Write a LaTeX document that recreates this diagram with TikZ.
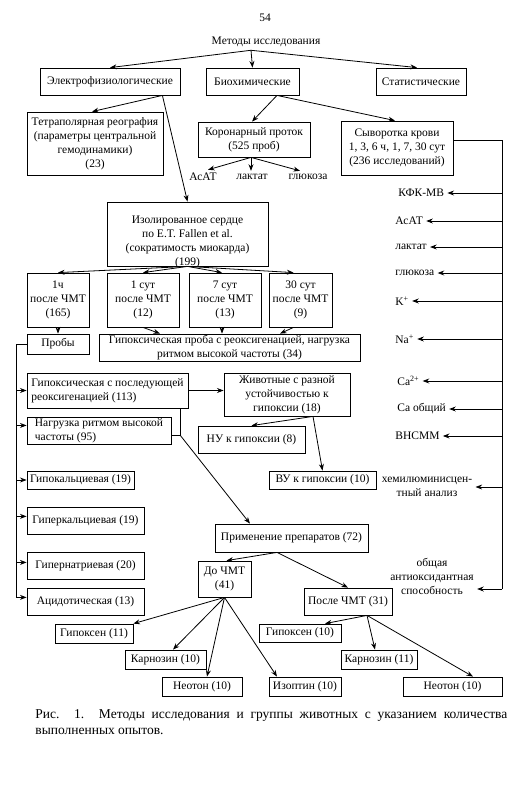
\documentclass[tikz,border=0pt]{standalone}
\usepackage{fontspec}
\setmainfont{Liberation Serif}
\usetikzlibrary{arrows.meta}

\begin{document}
\begin{tikzpicture}[x=1pt, y=-1pt, line width=0.8pt,
  every node/.style={font=\fontsize{11.5}{14}\selectfont}]
  \useasboundingbox (0,0) rectangle (522,798);

  \tikzset{box node/.style={rectangle,draw,align=center,inner xsep=2pt,inner ysep=1pt}}
  \tikzset{left node/.style={box node,align=left}}
  \tikzset{plain label/.style={inner sep=3pt}}
  \tikzset{side label/.style={inner sep=3pt,anchor=west}}

  % top part
  \path
    (265,18) node[plain label](page) {54}
    (266,42) node[plain label](title) {Методы исследования}
    (110,81.5) node[box node,minimum width=140pt,minimum height=27pt](elec) {Электрофизиологические}
    (252.5,81.5) node[box node,minimum width=93pt,minimum height=27pt](bio) {Биохимические}
    (421,81.5) node[box node,minimum width=90pt,minimum height=27pt](stat) {Статистические}
    (95,143.5) node[box node,minimum width=136pt,minimum height=63pt](tetra)
      {Тетраполярная реография\\(параметры центральной\\гемодинамики)\\(23)}
    (254,139.5) node[box node,minimum width=112pt,minimum height=35pt](coron) {Коронарный проток\\(525 проб)}
    (397,148) node[box node,minimum width=112pt,minimum height=54pt](serum)
      {Сыворотка крови\\1, 3, 6 ч, 1, 7, 30 сут\\(236 исследований)}
    (203,177) node[plain label](asat1) {АсАТ}
    (252,177) node[plain label](lact1) {лактат}
    (308,177) node[plain label](gluc1) {глюкоза}
  ;

  % isolated heart and terms
  \path
    (187.5,234) node[box node,minimum width=161pt,text height=62pt,text depth=-3pt](iso)
      {Изолированное сердце\\по E.T. Fallen et al.\\(сократимость миокарда)\\(199)}
    (58,300) node[box node,minimum width=62pt,minimum height=54pt](h1) {1ч\\после ЧМТ\\(165)}
    (143,300) node[box node,minimum width=72pt,minimum height=54pt](d1) {1 сут\\после ЧМТ\\(12)}
    (225,300) node[box node,minimum width=72pt,minimum height=54pt](d7) {7 сут\\после ЧМТ\\(13)}
    (300.5,300) node[box node,minimum width=63pt,minimum height=54pt](d30) {30 сут\\после ЧМТ\\(9)}
    (58,344) node[box node,minimum width=62pt,minimum height=20pt](probes) {Пробы}
    (229.5,347.5) node[box node,minimum width=261pt,minimum height=27pt](hypotest)
      {Гипоксическая проба с реоксигенацией, нагрузка\\ритмом высокой частоты (34)}
  ;

  % probes
  \path
    (107.5,390.5) node[left node,minimum width=161pt,minimum height=35pt](hypreox)
      {Гипоксическая с последующей\\реоксигенацией (113)}
    (99,430.5) node[left node,minimum width=144pt,minimum height=27pt](load) {Нагрузка ритмом высокой\\частоты (95)}
    (80.5,480) node[left node,minimum width=107pt,minimum height=18pt](hypoca) {Гипокальциевая (19)}
    (85.5,520.5) node[left node,minimum width=117pt,minimum height=27pt](hyperca) {Гиперкальциевая (19)}
    (85.5,565.5) node[left node,minimum width=117pt,minimum height=27pt](hyperna) {Гипернатриевая (20)}
    (85.5,601.5) node[left node,minimum width=117pt,minimum height=27pt](acid) {Ацидотическая (13)}
    (287,394.5) node[box node,minimum width=126pt,minimum height=43pt](animals)
      {Животные с разной\\устойчивостью к\\гипоксии (18)}
    (251.5,439.5) node[box node,minimum width=107pt,minimum height=27pt](nu) {НУ к гипоксии (8)}
    (322.5,480) node[box node,minimum width=107pt,minimum height=18pt](vu) {ВУ к гипоксии (10)}
  ;

  % drugs
  \path
    (291.5,538) node[box node,minimum width=153pt,minimum height=28pt](drugs) {Применение препаратов (72)}
    (224.5,579) node[box node,minimum width=53pt,minimum height=36pt](pre) {До ЧМТ\\(41)}
    (348,601.5) node[box node,minimum width=88pt,minimum height=27pt](post) {После ЧМТ (31)}
    (94,633.5) node[box node,minimum width=78pt,minimum height=19pt](hyps1) {Гипоксен (11)}
    (165.5,659.5) node[box node,minimum width=81pt,minimum height=19pt](carn1) {Карнозин (10)}
    (202,686.5) node[box node,minimum width=80pt,minimum height=19pt](neo1) {Неотон (10)}
    (305,686.5) node[box node,minimum width=72pt,minimum height=19pt](izo) {Изоптин (10)}
    (300,633) node[box node,minimum width=82pt,minimum height=18pt](hyps2) {Гипоксен (10)}
    (379,659.5) node[box node,minimum width=76pt,minimum height=19pt](carn2) {Карнозин (11)}
    (452.5,686.5) node[box node,minimum width=99pt,minimum height=19pt](neo2) {Неотон (10)}
  ;

  % serum parameters
  \path
    (395,193) node[side label](kfk) {КФК-МВ}
    (392,221) node[side label](asat2) {АсАТ}
    (392,247) node[side label](lact2) {лактат}
    (392,273) node[side label](gluc2) {глюкоза}
    (392,301) node[side label](kplus) {K\textsuperscript{+}}
    (392,339) node[side label](naplus) {Na\textsuperscript{+}}
    (394,381) node[side label](caplus) {Ca\textsuperscript{2+}}
    (394,409) node[side label](catot) {Ca общий}
    (392,436) node[side label](vnsmm) {ВНСММ}
    (427,487) node[plain label,align=center](chem) {хемилюминисцен-\\тный анализ}
    (432,576) node[plain label,align=center](aox) {общая\\антиоксидантная\\способность}
  ;

  \node[anchor=north west,text width=472pt,align=justify,inner sep=0pt,
        font=\fontsize{13.5}{16}\selectfont] (caption) at (35,709)
    {Рис. 1. Методы исследования и группы животных с указанием количества\linebreak
     выполненных опытов.};

  \coordinate (bus) at (502,140);
  \coordinate (busend) at (502,589);
  \coordinate (rail) at (16,344);
  \coordinate (join) at (180,435);

  \draw[-Stealth] ([xshift=-15pt]title.south) -- (elec.north);
  \draw[-Stealth] ([xshift=-15pt]title.south) -- (bio.north);
  \draw[-Stealth] ([xshift=-15pt]title.south) -- ([xshift=-4pt]stat.north);
  \draw[-Stealth] ([xshift=-18pt]elec.south east) -- ([xshift=-3pt]tetra.north);
  \draw[-Stealth] ([xshift=-18pt]elec.south east) -- (iso.north);
  \draw[-Stealth] ([xshift=24.5pt]bio.south) -- ([xshift=-2pt]coron.north);
  \draw[-Stealth] ([xshift=24.5pt]bio.south) -- ([xshift=-2pt]serum.north);
  \draw[-Stealth] ([xshift=-3pt]coron.south) -- ([xshift=5pt]asat1.north);
  \draw[-Stealth] ([xshift=-3pt]coron.south) -- ([xshift=-1pt]lact1.north);
  \draw[-Stealth] ([xshift=-3pt]coron.south) -- ([xshift=-8pt]gluc1.north);

  \draw[-Stealth] (iso.south) -- (h1.north);
  \draw[-Stealth] (iso.south) -- (d1.north);
  \draw[-Stealth] (iso.south) -- ([xshift=-3pt]d7.north);
  \draw[-Stealth] (iso.south) -- ([xshift=-7pt]d30.north);
  \draw[-Stealth] (h1.south) -- (probes.north);
  \draw[-Stealth] (d1.south) -- ([xshift=-69.5pt]hypotest.north);
  \draw[-Stealth] ([xshift=-3pt]d7.south) -- ([xshift=-7.5pt]hypotest.north);
  \draw[-Stealth] ([xshift=-7pt]d30.south) -- ([xshift=50.5pt]hypotest.north);

  % left rail
  \draw (probes.west) -- (rail) -- (rail |- acid.176);
  \foreach \n/\a in {hypreox/180, load/176, hypoca/180, hyperca/176, hyperna/177, acid/176}
    \draw[-Stealth] (rail |- \n.\a) -- (\n.\a);

  \draw[-Stealth] (hypreox.east) -- (hypreox.east -| animals.west);
  \draw (hypreox.south -| join) -- (join) -- (load.east |- join);
  \draw[-Stealth] (join) -- ([xshift=-41.5pt]drugs.north);
  \draw[-Stealth] ([xshift=26pt]animals.south) -- (nu.north);
  \draw[-Stealth] ([xshift=26pt]animals.south) -- (vu.north);

  \draw[-Stealth] ([xshift=-14.5pt]drugs.south) -- ([xshift=2pt]pre.north);
  \draw[-Stealth] ([xshift=-14.5pt]drugs.south) -- (post.north);
  \draw[-Stealth] (pre.south) -- (hyps1.north east);
  \draw[-Stealth] (pre.south) -- ([xshift=7.5pt]carn1.north);
  \draw[-Stealth] (pre.south) -- ([xshift=5pt]neo1.north);
  \draw[-Stealth] (pre.south) -- ([xshift=-28pt]izo.north);
  \draw[-Stealth] ([xshift=19pt]post.south) -- ([xshift=25pt]hyps2.north);
  \draw[-Stealth] ([xshift=19pt]post.south) -- ([xshift=-4pt]carn2.north);
  \draw[-Stealth] ([xshift=19pt]post.south) -- ([xshift=20.5pt]neo2.north);

  % right bus
  \draw ([yshift=8pt]serum.east) -- (bus) -- (busend);
  \foreach \n in {kfk,asat2,lact2,gluc2,kplus,naplus,caplus,catot,vnsmm,chem}
    \draw[-Stealth] (bus |- \n.east) -- (\n.east);
  \draw[-Stealth] (busend) -- (busend -| aox.east);

\end{tikzpicture}
\end{document}
